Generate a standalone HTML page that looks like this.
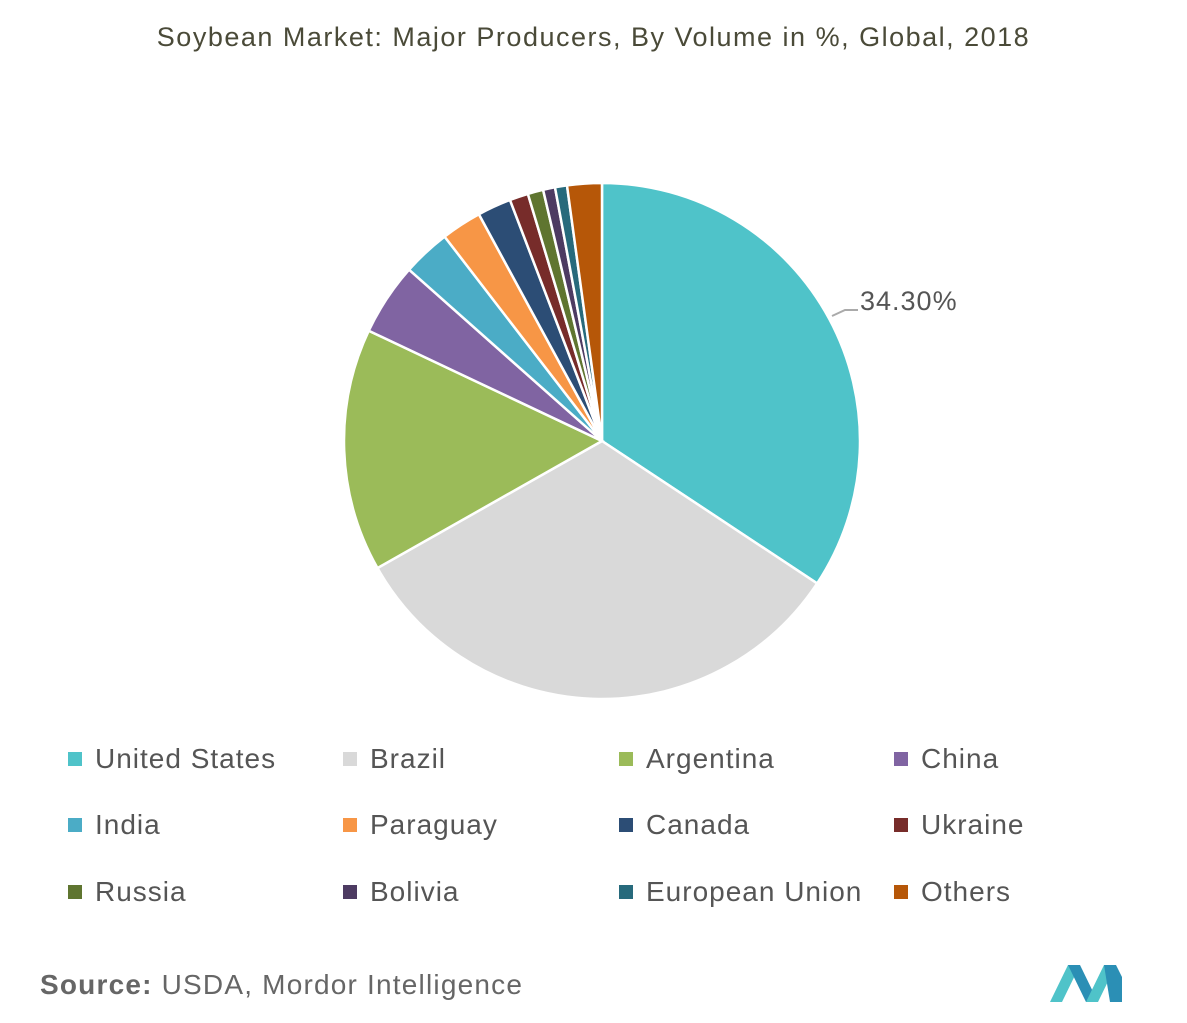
<!DOCTYPE html>
<html><head><meta charset="utf-8"><style>
body{margin:0;background:#fff;width:1187px;height:1023px;overflow:hidden;font-family:"Liberation Sans",sans-serif;position:relative}
.t{position:absolute;top:22px;left:0;width:1187px;text-align:center;font-size:27px;color:#4a4a38;letter-spacing:1.5px}
.lg{position:absolute;font-size:28px;color:#555;white-space:nowrap;letter-spacing:1px}
.lg i{display:inline-block;width:14px;height:14px;margin-right:13px;vertical-align:2px}
.src{position:absolute;left:40px;top:969px;font-size:28px;color:#666;letter-spacing:1.2px}
</style></head><body>
<div class="t">Soybean Market: Major Producers, By Volume in %, Global, 2018</div>
<svg width="1187" height="1023" style="position:absolute;left:0;top:0">
<g stroke="#fff" stroke-width="2.5" id="pie"></g>
<polyline points="832,316 845,310 858,310" fill="none" stroke="#aaa" stroke-width="2"/>
<text x="860" y="310" font-size="27" fill="#555" font-family="Liberation Sans" letter-spacing="1">34.30%</text>
<g transform="translate(1050,965)">
<polygon points="0,37 18,0 30,0 12,37" fill="#4fc3c9"/>
<polygon points="18,0 30,0 48,37 36,37" fill="#2b8fb5"/>
<polygon points="36,37 54,0 66,0 48,37" fill="#4fc3c9"/>
<polygon points="54,0 66,0 72,12 72,37 60,37" fill="#2b8fb5"/>
</g>
</svg>
<div class="lg" style="left:68px;top:743px"><i style="background:#4fc3c9"></i>United States</div>
<div class="lg" style="left:343px;top:743px"><i style="background:#d9d9d9"></i>Brazil</div>
<div class="lg" style="left:619px;top:743px"><i style="background:#9bbb59"></i>Argentina</div>
<div class="lg" style="left:894px;top:743px"><i style="background:#8064a2"></i>China</div>
<div class="lg" style="left:68px;top:809px"><i style="background:#4bacc6"></i>India</div>
<div class="lg" style="left:343px;top:809px"><i style="background:#f79646"></i>Paraguay</div>
<div class="lg" style="left:619px;top:809px"><i style="background:#2c4d75"></i>Canada</div>
<div class="lg" style="left:894px;top:809px"><i style="background:#772c2a"></i>Ukraine</div>
<div class="lg" style="left:68px;top:876px"><i style="background:#5f7530"></i>Russia</div>
<div class="lg" style="left:343px;top:876px"><i style="background:#4d3b62"></i>Bolivia</div>
<div class="lg" style="left:619px;top:876px"><i style="background:#276a7c"></i>European Union</div>
<div class="lg" style="left:894px;top:876px"><i style="background:#b65708"></i>Others</div>
<div class="src"><b>Source:</b> USDA, Mordor Intelligence</div>
<script>
var d=[[123.5,"#4fc3c9"],[117,"#d9d9d9"],[54.8,"#9bbb59"],[16.3,"#8064a2"],[10.8,"#4bacc6"],[9.1,"#f79646"],[7.6,"#2c4d75"],[4.2,"#772c2a"],[3.5,"#5f7530"],[2.7,"#4d3b62"],[2.7,"#276a7c"],[7.8,"#b65708"]];
var cx=602,cy=441,r=258,a=0,g=document.getElementById("pie"),s="";
var tot=d.reduce((p,c)=>p+c[0],0);
d.forEach(function(e){var b=a+e[0]*360/tot;
var x1=cx+r*Math.sin(a*Math.PI/180),y1=cy-r*Math.cos(a*Math.PI/180),x2=cx+r*Math.sin(b*Math.PI/180),y2=cy-r*Math.cos(b*Math.PI/180);
s+='<path d="M'+cx+','+cy+'L'+x1+','+y1+'A'+r+','+r+' 0 '+(b-a>180?1:0)+' 1 '+x2+','+y2+'Z" fill="'+e[1]+'"/>';a=b;});
g.innerHTML=s;
</script>
</body></html>
